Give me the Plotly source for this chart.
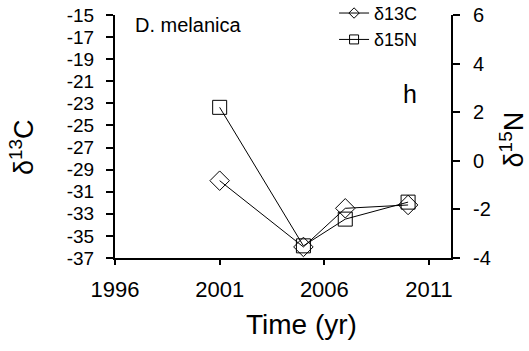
import plotly.graph_objects as go

years_c = [2001, 2005, 2007, 2010]
d13c = [-30.0, -36.0, -32.5, -32.2]
years_n = [2001, 2005, 2007, 2010]
d15n = [2.2, -3.5, -2.4, -1.7]

left_ticks = list(range(-37, -14, 2))
right_ticks = list(range(-4, 7, 2))
x_ticks = [1996, 2001, 2006, 2011]

FONT = "Liberation Sans, Arial, sans-serif"

fig = go.Figure()
fig.add_trace(go.Scatter(
    x=years_c, y=d13c, name="δ13C", mode="lines+markers", showlegend=False,
    line=dict(color="black", width=1),
    marker=dict(symbol="diamond-open", size=15, color="black", line=dict(width=1)),
    yaxis="y"))
fig.add_trace(go.Scatter(
    x=years_n, y=d15n, name="δ15N", mode="lines+markers", showlegend=False,
    line=dict(color="black", width=1),
    marker=dict(symbol="square-open", size=14, color="black", line=dict(width=1)),
    yaxis="y2"))
# legend entries (smaller symbols as in the reference legend)
fig.add_trace(go.Scatter(
    x=[None], y=[None], name="δ13C", mode="lines+markers",
    line=dict(color="black", width=1),
    marker=dict(symbol="diamond-open", size=8, color="black", line=dict(width=1)),
    yaxis="y"))
fig.add_trace(go.Scatter(
    x=[None], y=[None], name="δ15N", mode="lines+markers",
    line=dict(color="black", width=1),
    marker=dict(symbol="square-open", size=9, color="black", line=dict(width=1)),
    yaxis="y2"))

axis_common = dict(showgrid=False, zeroline=False, showline=True, linecolor="black",
                   linewidth=2, ticks="outside", tickwidth=2, tickcolor="black")

fig.update_layout(
    width=529, height=351,
    margin=dict(l=115, r=78, t=15, b=93, autoexpand=False),
    paper_bgcolor="white", plot_bgcolor="white",
    font=dict(family=FONT, color="black", size=20),
    showlegend=True,
    legend=dict(x=0.652, y=1.083, xanchor="left", yanchor="top",
                bgcolor="rgba(0,0,0,0)", font=dict(size=18, family=FONT),
                tracegroupgap=0, borderwidth=0),
    xaxis=dict(range=[1996, 2012.05], tickvals=x_ticks, ticklen=5,
               tickfont=dict(size=22), ticklabelstandoff=6, **axis_common),
    yaxis=dict(range=[-37, -15], tickvals=left_ticks,
               ticktext=[str(v) for v in left_ticks], ticklen=7,
               tickfont=dict(size=19), ticklabelstandoff=8, **axis_common),
    yaxis2=dict(range=[-4, 6], tickvals=right_ticks,
                ticktext=[str(v) for v in right_ticks], overlaying="y", side="right",
                ticklen=7, tickfont=dict(size=20), ticklabelstandoff=9, **axis_common),
    annotations=[
        dict(text="D. melanica", x=0.053, y=1.012, xref="paper", yref="paper",
             xanchor="left", yanchor="top", showarrow=False, font=dict(size=20)),
        dict(text="h", x=0.852, y=0.674, xref="paper", yref="paper",
             xanchor="left", yanchor="middle", showarrow=False, font=dict(size=25)),
        dict(text="Time (yr)", x=0.555, y=-0.275, xref="paper", yref="paper",
             xanchor="center", yanchor="middle", showarrow=False, font=dict(size=28)),
        dict(text="δ<sup>13</sup>C", x=-0.275, y=0.455, xref="paper", yref="paper",
             xanchor="center", yanchor="middle", showarrow=False, textangle=-90,
             font=dict(size=27)),
        dict(text="δ<sup>15</sup>N", x=1.18, y=0.49, xref="paper", yref="paper",
             xanchor="center", yanchor="middle", showarrow=False, textangle=-90,
             font=dict(size=27)),
    ],
)

fig.write_html("out.html")
